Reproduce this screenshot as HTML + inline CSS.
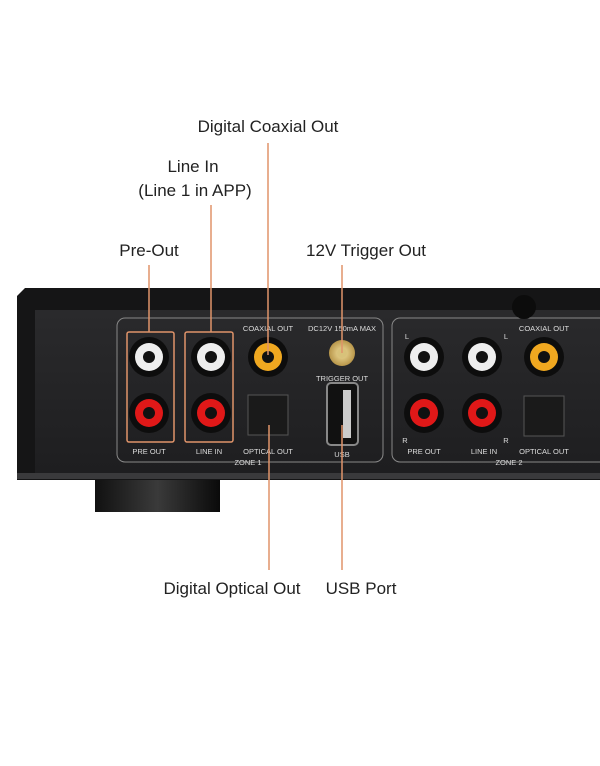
<!DOCTYPE html>
<html><head><style>
body{margin:0;width:600px;height:766px;background:#fff;overflow:hidden;position:relative;font-family:"Liberation Sans",sans-serif}
.l{position:absolute;font-size:17px;color:#222;text-align:center;white-space:nowrap;transform:translateX(-50%)}
</style></head><body>
<svg width="600" height="766" style="position:absolute;left:0;top:0">
<defs>
<linearGradient id="foot" x1="0" x2="1"><stop offset="0" stop-color="#111"/><stop offset=".5" stop-color="#3a3a3a"/><stop offset="1" stop-color="#0a0a0a"/></linearGradient>
<linearGradient id="pan" x1="0" y1="0" x2="0" y2="1"><stop offset="0" stop-color="#2a2a2c"/><stop offset="1" stop-color="#1e1e20"/></linearGradient>
<radialGradient id="gold"><stop offset="0" stop-color="#f4e2a0"/><stop offset="1" stop-color="#b8964a"/></radialGradient>
</defs>
<rect x="95" y="470" width="125" height="42" fill="url(#foot)"/>
<path d="M25 288 H600 V480 H17 V296 Z" fill="#151516"/>
<rect x="35" y="310" width="565" height="163" fill="url(#pan)"/>
<rect x="17" y="473" width="583" height="6" fill="#3a3a3c"/>
<rect x="117" y="318" width="266" height="144" rx="8" fill="none" stroke="#888" stroke-width="1"/>
<rect x="392" y="318" width="220" height="144" rx="8" fill="none" stroke="#888" stroke-width="1"/>
<circle cx="524" cy="307" r="12" fill="#0c0c0c"/>
<g id="j">
</g>
<!-- jacks -->
<g>
<circle cx="149" cy="357" r="20" fill="#0d0d0d"/><circle cx="149" cy="357" r="14" fill="#eee"/><circle cx="149" cy="357" r="6" fill="#111"/>
<circle cx="149" cy="413" r="20" fill="#0d0d0d"/><circle cx="149" cy="413" r="14" fill="#e01818"/><circle cx="149" cy="413" r="6" fill="#111"/>
<circle cx="211" cy="357" r="20" fill="#0d0d0d"/><circle cx="211" cy="357" r="14" fill="#eee"/><circle cx="211" cy="357" r="6" fill="#111"/>
<circle cx="211" cy="413" r="20" fill="#0d0d0d"/><circle cx="211" cy="413" r="14" fill="#e01818"/><circle cx="211" cy="413" r="6" fill="#111"/>
<circle cx="268" cy="357" r="20" fill="#0d0d0d"/><circle cx="268" cy="357" r="14" fill="#f0a820"/><circle cx="268" cy="357" r="6" fill="#111"/>
<circle cx="424" cy="357" r="20" fill="#0d0d0d"/><circle cx="424" cy="357" r="14" fill="#eee"/><circle cx="424" cy="357" r="6" fill="#111"/>
<circle cx="424" cy="413" r="20" fill="#0d0d0d"/><circle cx="424" cy="413" r="14" fill="#e01818"/><circle cx="424" cy="413" r="6" fill="#111"/>
<circle cx="482" cy="357" r="20" fill="#0d0d0d"/><circle cx="482" cy="357" r="14" fill="#eee"/><circle cx="482" cy="357" r="6" fill="#111"/>
<circle cx="482" cy="413" r="20" fill="#0d0d0d"/><circle cx="482" cy="413" r="14" fill="#e01818"/><circle cx="482" cy="413" r="6" fill="#111"/>
<circle cx="544" cy="357" r="20" fill="#0d0d0d"/><circle cx="544" cy="357" r="14" fill="#f0a820"/><circle cx="544" cy="357" r="6" fill="#111"/>
<circle cx="342" cy="353" r="13" fill="url(#gold)"/><circle cx="342" cy="353" r="5" fill="#d8c27a"/>
<rect x="248" y="395" width="40" height="40" fill="#1a1a1a" stroke="#555"/>
<rect x="524" y="396" width="40" height="40" fill="#1a1a1a" stroke="#555"/>
<rect x="327" y="383" width="31" height="62" rx="4" fill="#111" stroke="#888" stroke-width="2"/>
<rect x="343" y="390" width="8" height="48" fill="#ccc"/>
</g>
<g fill="#ddd" font-size="7.5" font-family="Liberation Sans" text-anchor="middle">
<text x="268" y="331">COAXIAL OUT</text><text x="342" y="331">DC12V 150mA MAX</text>
<text x="342" y="381">TRIGGER OUT</text><text x="342" y="457">USB</text>
<text x="149" y="454">PRE OUT</text><text x="209" y="454">LINE IN</text><text x="268" y="454">OPTICAL OUT</text>
<text x="248" y="465">ZONE 1</text>
<text x="544" y="331">COAXIAL OUT</text>
<text x="424" y="454">PRE OUT</text><text x="484" y="454">LINE IN</text><text x="544" y="454">OPTICAL OUT</text>
<text x="509" y="465">ZONE 2</text>
<text x="407" y="339">L</text><text x="506" y="339">L</text><text x="405" y="443">R</text><text x="506" y="443">R</text>
</g>
<g fill="none" stroke="#e0946a" stroke-width="1.5">
<rect x="127" y="332" width="47" height="110" rx="2"/>
<rect x="185" y="332" width="48" height="110" rx="2"/>
<path d="M149 265V332M211 205V332M268 143V355M342 265V353M269 425V570M342 425V570"/>
</g>
</svg>
<div class="l" style="left:268px;top:117px">Digital Coaxial Out</div>
<div class="l" style="left:193px;top:157px">Line In</div>
<div class="l" style="left:195px;top:181px">(Line 1 in APP)</div>
<div class="l" style="left:149px;top:241px">Pre-Out</div>
<div class="l" style="left:366px;top:241px">12V Trigger Out</div>
<div class="l" style="left:232px;top:579px">Digital Optical Out</div>
<div class="l" style="left:361px;top:579px">USB Port</div>
</body></html>
